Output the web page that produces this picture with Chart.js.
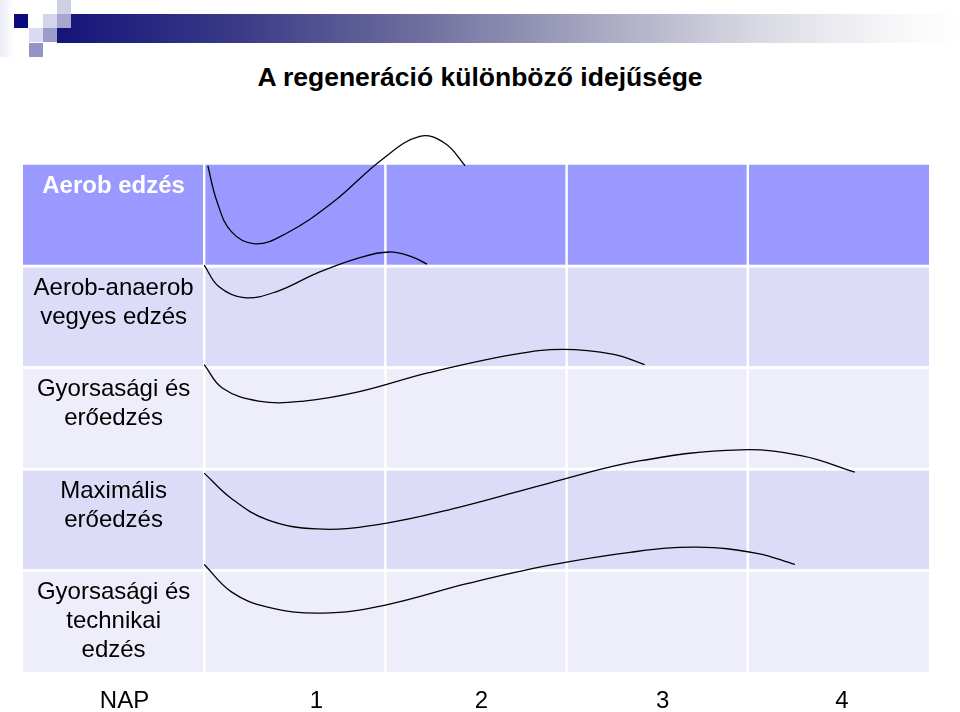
<!DOCTYPE html>
<html lang="hu">
<head>
<meta charset="utf-8">
<title>A regeneráció különböző idejűsége</title>
<script src="https://cdn.jsdelivr.net/npm/chart.js@4"></script>
<style>
  html, body { margin: 0; padding: 0; background: #fff; overflow: hidden; }
  body { width: 960px; height: 712px; position: relative; font-family: "Liberation Sans", Arial, sans-serif; }
  .sq { position: absolute; width: 14px; height: 14px; }
  #bar { position: absolute; left: 57px; top: 14px; width: 903px; height: 29px;
    background: linear-gradient(to right, #14147a 0%, #3a3a88 20%, #6e6e9e 40%, #a8a8c2 60%, #dadae4 78%, #f6f6f8 92%, #ffffff 100%); }
  #title { position: absolute; left: 0; top: 61px; width: 960px; text-align: center;
    font-weight: bold; font-size: 26.5px; line-height: 32px; color: #000; }
  #wrap { position: absolute; left: 0; top: 0; width: 960px; height: 740px; }
</style>
</head>
<body>
<div class="sq" style="left:0;top:0;width:14px;height:57px;background:linear-gradient(to right,#ececf6,#ffffff)"></div>
<div id="bar"></div>
<div class="sq" style="left:14px;top:14px;background:#0a0a7e"></div>
<div class="sq" style="left:57px;top:0;background:#cfcfe6"></div>
<div class="sq" style="left:43px;top:14px;background:#d4d4ec"></div>
<div class="sq" style="left:57px;top:14px;background:#a6a6d0"></div>
<div class="sq" style="left:29px;top:28px;background:#dadaf0"></div>
<div class="sq" style="left:43px;top:28px;background:#9c9cca"></div>
<div class="sq" style="left:29px;top:43px;background:#9494c4"></div>
<div id="title">A regeneráció különböző idejűsége</div>
<div id="wrap"><canvas id="chart"></canvas></div>
<script>
// napok (x) és a teljesítményszint a sor alapvonalához képest (y)
const aerobDays = [0.02, 0.07, 0.15, 0.28, 0.45, 0.71, 0.98, 1.19, 1.33, 1.44];
const aerobLevels = [-0.01, -0.36, -0.66, -0.78, -0.68, -0.37, 0.05, 0.28, 0.21, -0.01];

const mixedDays = [0.00, 0.08, 0.22, 0.40, 0.62, 0.85, 1.02, 1.15, 1.23];
const mixedLevels = [0.01, -0.2, -0.31, -0.25, -0.07, 0.08, 0.14, 0.09, 0.02];

const speedStrengthDays = [0.00, 0.10, 0.30, 0.55, 0.85, 1.24, 1.71, 1.98, 2.26, 2.43];
const speedStrengthLevels = [0.03, -0.2, -0.33, -0.33, -0.24, -0.05, 0.13, 0.18, 0.13, 0.03];

const maxStrengthDays = [0.00, 0.15, 0.35, 0.62, 0.95, 1.40, 1.90, 2.40, 2.96, 3.30, 3.59];
const maxStrengthLevels = [-0.04, -0.29, -0.50, -0.59, -0.55, -0.38, -0.14, 0.08, 0.19, 0.13, -0.03];

const speedTechDays = [0.00, 0.15, 0.35, 0.65, 1.00, 1.45, 1.90, 2.35, 2.72, 3.05, 3.26];
const speedTechLevels = [0.06, -0.21, -0.36, -0.42, -0.34, -0.13, 0.05, 0.18, 0.23, 0.17, 0.06];

const rowLabels = [
  ["Aerob edzés"],
  ["Aerob-anaerob", "vegyes edzés"],
  ["Gyorsasági és", "erőedzés"],
  ["Maximális", "erőedzés"],
  ["Gyorsasági és", "technikai", "edzés"],
];
const dayLabels = ["NAP", "1", "2", "3", "4"];
const tickDays = [-0.44, 0.62, 1.53, 2.53, 3.52];

const rowColors = ["#9999ff", "#dcdcf8", "#eeeefb", "#dcdcf8", "#eeeefb"];
const fontFamily = '"Liberation Sans", Arial, sans-serif';

const curves = [
  [aerobDays, aerobLevels],
  [mixedDays, mixedLevels],
  [speedStrengthDays, speedStrengthLevels],
  [maxStrengthDays, maxStrengthLevels],
  [speedTechDays, speedTechLevels],
];

// minden görbe a saját sorának felső vonalától indul
const datasets = curves.map(([days, levels], row) => ({
  data: days.map((d, i) => ({ x: d, y: -row + levels[i] })),
  borderColor: "#000",
  borderWidth: 1.3,
  pointRadius: 0,
  tension: 0.4,
  fill: false,
}));

// táblázat cellái és a sorok feliratai
const tablePlugin = {
  id: "table",
  beforeDatasetsDraw(chart) {
    const { ctx, scales: { x, y } } = chart;
    ctx.save();
    rowLabels.forEach((lines, r) => {
      const top = y.getPixelForValue(-r);
      const bottom = y.getPixelForValue(-(r + 1));
      const y0 = r === 0 ? top : top + 1.5;
      const y1 = r === rowLabels.length - 1 ? bottom : bottom - 1.5;
      ctx.fillStyle = rowColors[r];
      for (let c = -1; c < 4; c++) {
        const left = x.getPixelForValue(c);
        const right = x.getPixelForValue(c + 1);
        const x0 = c === -1 ? left : left + 1.2;
        const x1 = c === 3 ? right : right - 1.2;
        ctx.fillRect(x0, y0, x1 - x0, y1 - y0);
      }
      ctx.fillStyle = r === 0 ? "#fff" : "#000";
      ctx.font = (r === 0 ? "bold " : "") + "24px " + fontFamily;
      ctx.textAlign = "center";
      ctx.textBaseline = "middle";
      const cx = x.getPixelForValue(-0.5);
      lines.forEach((line, i) => {
        ctx.fillText(line, cx, top + 22 + i * 28.8);
      });
    });
    ctx.restore();
  },
};

new Chart(document.getElementById("chart"), {
  type: "line",
  data: { datasets },
  plugins: [tablePlugin],
  options: {
    responsive: true,
    maintainAspectRatio: false,
    animation: false,
    layout: { padding: { left: 23, right: 31, top: 114, bottom: 10 } },
    plugins: { legend: { display: false }, tooltip: { enabled: false } },
    scales: {
      x: {
        type: "linear",
        min: -1,
        max: 4,
        grid: { display: false, drawTicks: false },
        border: { display: false },
        afterBuildTicks: (scale) => {
          scale.ticks = tickDays.map((v) => ({ value: v }));
        },
        ticks: {
          autoSkip: false,
          maxRotation: 0,
          padding: 14.6,
          color: "#000",
          font: { family: fontFamily, size: 24 },
          callback: (value, index) => dayLabels[index],
        },
      },
      y: {
        type: "linear",
        min: -5,
        max: 0.5,
        display: false,
      },
    },
  },
});
</script>
</body>
</html>
